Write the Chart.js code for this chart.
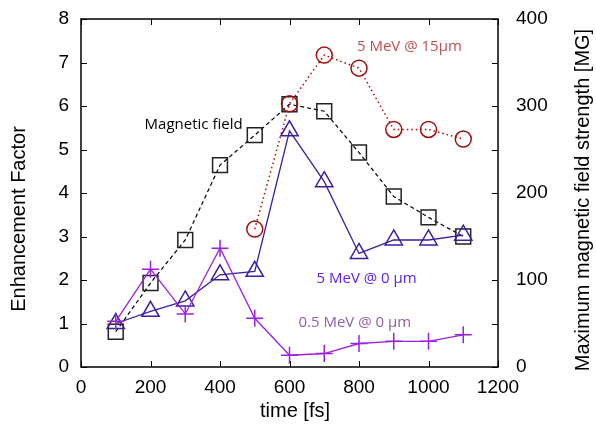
<!DOCTYPE html>
<html lang="en">
<head>
    <meta charset="UTF-8">
    <title>Enhancement Factor vs time</title>
    <script src="https://cdn.jsdelivr.net/npm/chart.js"></script>
    <style>
        body { margin: 0; background: #fff; }
        #wrap { width: 596px; height: 433px; }
    </style>
</head>
<body>
    <div id="wrap"><canvas id="chart" width="596" height="433"></canvas></div>

    <script>
        // time axis (fs)
        const times = [100, 200, 300, 400, 500, 600, 700, 800, 900, 1000, 1100];
        // magnetic field strength, right axis [MG]
        const magField = [40.5, 96.5, 146, 232, 266.5, 302, 294, 246.5, 196, 172, 150];
        // enhancement factors, left axis
        const mev5at15um = [null, null, null, null, 3.17, 6.05, 7.17, 6.87, 5.46, 5.46, 5.24];
        const mev5at0um = [1.0, 1.28, 1.52, 2.12, 2.2, 5.43, 4.26, 2.61, 2.92, 2.92, 3.03];
        const mev05at0um = [1.05, 2.25, 1.22, 2.73, 1.12, 0.27, 0.31, 0.54, 0.59, 0.59, 0.74];

        const xTicks = [0, 200, 400, 600, 800, 1000, 1200];
        const yTicks = [0, 1, 2, 3, 4, 5, 6, 7, 8];
        const y2Ticks = [0, 100, 200, 300, 400];
        const y2Minor = [50, 150, 250, 350];

        const seriesLabels = ['Magnetic field', '5 MeV @ 15\u00b5m', '5 MeV @ 0 \u00b5m', '0.5 MeV @ 0 \u00b5m'];

        const pts = vals => times.map((t, i) => ({ x: t, y: vals[i] })).filter(p => p.y !== null);

        const sansFont = "'Liberation Sans', Arial, sans-serif";
        const noteFont = "'Open Sans', sans-serif";

        // frame, inward ticks, axis titles and in-plot labels (gnuplot look)
        const decor = {
            id: 'decor',
            afterDraw(chart) {
                const { ctx, chartArea: a, scales: { x, y, y2 } } = chart;
                ctx.save();
                ctx.strokeStyle = '#000';
                ctx.lineWidth = 1.5;
                ctx.strokeRect(a.left, a.top, a.right - a.left, a.bottom - a.top);

                ctx.lineWidth = 1;
                ctx.beginPath();
                xTicks.forEach(v => {
                    const px = Math.round(x.getPixelForValue(v)) + 0.5;
                    ctx.moveTo(px, a.bottom); ctx.lineTo(px, a.bottom - 6);
                    ctx.moveTo(px, a.top); ctx.lineTo(px, a.top + 6);
                });
                yTicks.forEach(v => {
                    const py = Math.round(y.getPixelForValue(v)) + 0.5;
                    ctx.moveTo(a.left, py); ctx.lineTo(a.left + 6, py);
                });
                y2Ticks.concat(y2Minor).forEach(v => {
                    const py = Math.round(y2.getPixelForValue(v)) + 0.5;
                    ctx.moveTo(a.right, py); ctx.lineTo(a.right - 6, py);
                });
                ctx.stroke();

                // axis titles
                ctx.fillStyle = '#000';
                ctx.font = '20px ' + sansFont;
                ctx.textAlign = 'center';
                ctx.textBaseline = 'middle';
                ctx.fillText('time [fs]', 295, 411);
                ctx.save();
                ctx.translate(19, 219);
                ctx.rotate(-Math.PI / 2);
                ctx.fillText('Enhancement Factor', 0, 0);
                ctx.restore();
                ctx.save();
                ctx.translate(583, 200);
                ctx.rotate(-Math.PI / 2);
                ctx.fillText('Maximum magnetic field strength [MG]', 0, 0);
                ctx.restore();

                // series labels inside the plot
                ctx.font = '15px ' + noteFont;
                const notes = [
                    [seriesLabels[0], 324, 5.56, '#000'],
                    [seriesLabels[1], 945, 7.36, '#c05050'],
                    [seriesLabels[2], 822, 2.02, '#6020f0'],
                    [seriesLabels[3], 788, 1.01, '#9060a8']
                ];
                notes.forEach(([txt, vx, vy, col]) => {
                    ctx.fillStyle = col;
                    ctx.fillText(txt, x.getPixelForValue(vx), y.getPixelForValue(vy));
                });
                ctx.restore();
            }
        };

        const tickFont = { family: sansFont, size: 19 };
        const noPad = s => { s.paddingTop = 0; s.paddingBottom = 0; s.paddingLeft = 0; s.paddingRight = 0; };

        new Chart(document.getElementById('chart'), {
            type: 'line',
            data: {
                datasets: [
                    {
                        label: seriesLabels[0],
                        data: pts(magField),
                        yAxisID: 'y2',
                        borderColor: '#000',
                        borderWidth: 1.2,
                        borderDash: [4, 3],
                        pointStyle: 'rect',
                        pointRadius: 10.5,
                        pointBorderWidth: 1.5,
                        pointBorderColor: '#222',
                        pointBackgroundColor: 'rgba(0,0,0,0)',
                        order: 4
                    },
                    {
                        label: seriesLabels[1],
                        data: pts(mev5at15um),
                        yAxisID: 'y',
                        borderColor: '#c00000',
                        borderWidth: 1.5,
                        borderDash: [1.5, 3],
                        pointStyle: 'circle',
                        pointRadius: 8,
                        pointBorderWidth: 1.5,
                        pointBorderColor: '#a01010',
                        pointBackgroundColor: 'rgba(0,0,0,0)',
                        order: 3
                    },
                    {
                        label: seriesLabels[2],
                        data: pts(mev5at0um),
                        yAxisID: 'y',
                        borderColor: '#3c1ea0',
                        borderWidth: 1.3,
                        pointStyle: 'triangle',
                        pointRadius: 10,
                        pointBorderWidth: 1.5,
                        pointBorderColor: '#3c1ea0',
                        pointBackgroundColor: 'rgba(0,0,0,0)',
                        order: 2
                    },
                    {
                        label: seriesLabels[3],
                        data: pts(mev05at0um),
                        yAxisID: 'y',
                        borderColor: '#a020e0',
                        borderWidth: 1.3,
                        pointStyle: 'cross',
                        pointRadius: 8.5,
                        pointBorderWidth: 1.5,
                        pointBorderColor: '#a020e0',
                        pointBackgroundColor: 'rgba(0,0,0,0)',
                        order: 1
                    }
                ]
            },
            options: {
                responsive: false,
                animation: false,
                devicePixelRatio: 1,
                clip: false,
                layout: { padding: { top: 19, left: 0, right: 0, bottom: 0 } },
                plugins: {
                    legend: { display: false },
                    tooltip: { enabled: false }
                },
                elements: { line: { tension: 0 } },
                scales: {
                    x: {
                        type: 'linear',
                        min: 0, max: 1200,
                        afterBuildTicks: s => { s.ticks = xTicks.map(v => ({ value: v })); },
                        ticks: { font: tickFont, color: '#000', padding: 9, maxRotation: 0, callback: v => String(v) },
                        grid: { display: false, drawTicks: false },
                        border: { display: false },
                        afterFit: s => { s.height = 66; noPad(s); }
                    },
                    y: {
                        type: 'linear',
                        position: 'left',
                        min: 0, max: 8,
                        afterBuildTicks: s => { s.ticks = yTicks.map(v => ({ value: v })); },
                        ticks: { font: tickFont, color: '#000', padding: 12, callback: v => String(v) },
                        grid: { display: false, drawTicks: false },
                        border: { display: false },
                        afterFit: s => { s.width = 81; noPad(s); }
                    },
                    y2: {
                        type: 'linear',
                        position: 'right',
                        min: 0, max: 400,
                        afterBuildTicks: s => { s.ticks = y2Ticks.map(v => ({ value: v })); },
                        ticks: { font: tickFont, color: '#000', padding: 18, callback: v => String(v) },
                        grid: { display: false, drawTicks: false },
                        border: { display: false },
                        afterFit: s => { s.width = 98; noPad(s); }
                    }
                }
            },
            plugins: [decor]
        });
    </script>
</body>
</html>
